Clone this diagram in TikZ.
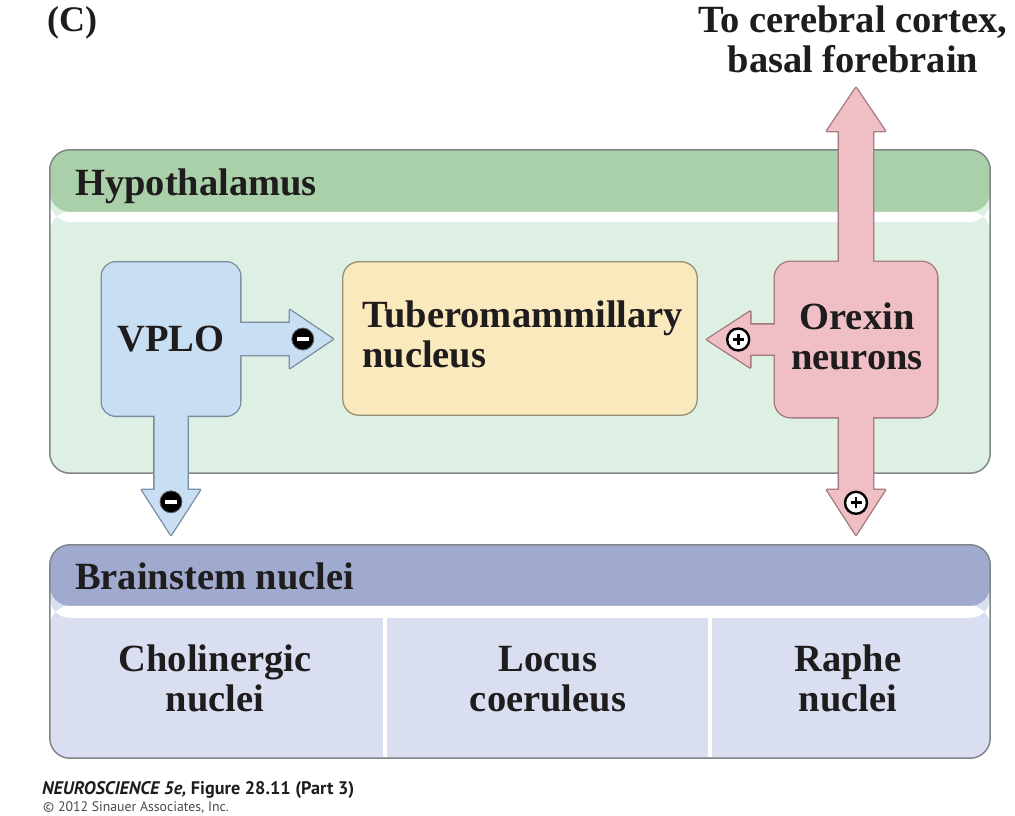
\documentclass[tikz,border=0pt]{standalone}
\usepackage{fontspec}
\setmainfont{Liberation Serif}
\newfontfamily\footfont{PT Sans}
\usetikzlibrary{calc}
\definecolor{hypoHead}{RGB}{169,208,169}
\definecolor{hypoBody}{RGB}{222,240,228}
\definecolor{stemHead}{RGB}{160,170,206}
\definecolor{stemBody}{RGB}{217,222,240}
\definecolor{contLine}{RGB}{128,134,134}
\definecolor{blueFill}{RGB}{200,223,243}
\definecolor{blueLine}{RGB}{120,138,158}
\definecolor{pinkFill}{RGB}{240,191,197}
\definecolor{pinkLine}{RGB}{158,118,124}
\definecolor{yelFill}{RGB}{250,233,189}
\definecolor{yelLine}{RGB}{150,143,118}
\definecolor{txt}{RGB}{30,28,28}
\pgfdeclarelayer{cont}
\pgfdeclarelayer{outl}
\pgfdeclarelayer{fil}
\pgfsetlayers{cont,outl,fil,main}
% #1 style, #2 name, #3 start, #4 tip, #5 shaft half width, #6 head half width, #7 head length
\newcommand\blockarrow[7]{%
  \coordinate (#2-h) at ($(#4)!#7!(#3)$);
  \path[#1] ($(#3)!#5!90:(#4)$) -- ($(#2-h)!#5!-90:(#3)$) -- ($(#2-h)!#6!-90:(#3)$) -- (#4)
    -- ($(#2-h)!#6!90:(#3)$) -- ($(#2-h)!#5!90:(#3)$) -- ($(#3)!#5!-90:(#4)$) -- cycle;}
\begin{document}
\begin{tikzpicture}[x=1pt,y=-1pt,
  container/.style={draw=contLine, line width=1.5pt, rounded corners=20pt, inner sep=0pt, rectangle},
  box/.style={inner sep=0pt, rectangle},
  lbl/.style={font=\fontsize{38.5}{39.5}\selectfont\bfseries, text=txt, inner sep=0pt, align=center},
  bluO/.style={draw=blueLine, line width=2.6pt, line join=round},
  bluF/.style={fill=blueFill},
  pnkO/.style={draw=pinkLine, line width=2.6pt, line join=round},
  pnkF/.style={fill=pinkFill},
  minuscirc/.style={circle, fill=black, draw=black!60, line width=0.8pt, minimum size=22pt, inner sep=0pt},
  pluscirc/.style={circle, fill=white, draw=black, line width=2.4pt, minimum size=22pt, inner sep=0pt}]
\useasboundingbox (0,0) rectangle (1015,815);

% ---------- texts and anchor boxes ----------
\node[lbl, anchor=base west, font=\fontsize{36}{39}\selectfont\bfseries] (clab) at (47,31) {(C)};
\node[lbl] (title) at (853,39.5) {To cerebral cortex,\\basal forebrain};

\node[box, minimum width=940pt, minimum height=323pt] (hypo) at (520,311.5) {};
\node[box, minimum width=940pt, minimum height=213pt] (stem) at (520,651.5) {};

\node[lbl, anchor=base west] (hypolab) at (75,195) {Hypothalamus};
\node[lbl, anchor=base west] (stemlab) at (75,589) {Brainstem nuclei};

\node[box, minimum width=138pt, minimum height=153pt] (vplo) at (171,339) {};
\node[box, minimum width=354pt, minimum height=153pt] (tub) at (520,338.5) {};
\node[box, minimum width=162pt, minimum height=155pt] (orx) at (856,339.5) {};

\node[lbl] (vplotxt) at (171,339.5) {VPLO};
\node[lbl, align=left, anchor=west] (tubtxt) at (362,334.5) {Tuberomammillary\\nucleus};
\node[lbl] (orxtxt) at (857,336.5) {Orexin\\neurons};

\node[lbl] (chol) at (215,678.5) {Cholinergic\\nuclei};
\node[lbl] (locus) at (548,679) {Locus\\coeruleus};
\node[lbl] (raphe) at (848,678.5) {Raphe\\nuclei};

\node[anchor=base west, inner sep=0pt, text=txt, font=\footfont\fontsize{18.2}{20}\selectfont\bfseries] (foot1) at (42,794)
  {\itshape NEUROSCIENCE 5e, \upshape Figure 28.11 (Part 3)};
\node[anchor=base west, inner sep=0pt, text=txt!80, font=\footfont\fontsize{13.8}{15}\selectfont] (foot2) at (43,811)
  {© 2012 Sinauer Associates, Inc.};

% ---------- arrow end points ----------
\coordinate (vr-s) at ($(vplo.east)+(-4,0)$);
\coordinate (vr-t) at ($(vplo.east -| tub.west)+(-10,0)$);
\coordinate (vd-s) at ($(vplo.south)+(0,-4)$);
\coordinate (vd-t) at ($(vplo.south |- stem.north)+(0,-10)$);
\coordinate (ol-s) at ($(orx.west)+(4,0)$);
\coordinate (ol-t) at ($(orx.west -| tub.east)+(10,0)$);
\coordinate (od-s) at ($(orx.south)+(0,-4)$);
\coordinate (od-t) at ($(orx.south |- stem.north)+(0,-10)$);
\coordinate (ou-s) at ($(orx.north)+(0,4)$);
\coordinate (ou-t) at ($(orx.north |- title.south)+(0,15)$);

% ---------- containers ----------
\begin{pgfonlayer}{cont}
  \fill[white] (0,0) rectangle (1015,815);
  \path[container, fill=hypoBody, path picture={
      \fill[hypoHead] (path picture bounding box.north west) rectangle ([yshift=-62pt]path picture bounding box.north east);
      \fill[white] ([yshift=-62pt]path picture bounding box.north west) rectangle ([yshift=-72pt]path picture bounding box.north east);}]
    (hypo.north west) rectangle (hypo.south east);
  \path[container, fill=stemBody, path picture={
      \fill[stemHead] (path picture bounding box.north west) rectangle ([yshift=-61pt]path picture bounding box.north east);
      \fill[white] ([yshift=-61pt]path picture bounding box.north west) rectangle ([yshift=-73pt]path picture bounding box.north east);}]
    (stem.north west) rectangle (stem.south east);
  \draw[white, line width=4pt] ($(stem.north west)+(335,72)$) -- ($(stem.south west)+(335,-1.5)$);
  \draw[white, line width=4pt] ($(stem.north west)+(660,72)$) -- ($(stem.south west)+(660,-1.5)$);
\end{pgfonlayer}

% ---------- outlines of merged shapes ----------
\begin{pgfonlayer}{outl}
  \path[bluO, rounded corners=14pt] (vplo.north west) rectangle (vplo.south east);
  \blockarrow{bluO}{vr}{vr-s}{vr-t}{16pt}{29pt}{43pt}
  \blockarrow{bluO}{vd}{vd-s}{vd-t}{16.5pt}{29pt}{45pt}
  \path[pnkO, rounded corners=16pt] (orx.north west) rectangle (orx.south east);
  \blockarrow{pnkO}{ol}{ol-s}{ol-t}{15pt}{28pt}{43pt}
  \blockarrow{pnkO}{od}{od-s}{od-t}{17pt}{29pt}{45pt}
  \blockarrow{pnkO}{ou}{ou-s}{ou-t}{17pt}{29pt}{43pt}
\end{pgfonlayer}

% ---------- fills ----------
\begin{pgfonlayer}{fil}
  \path[bluF, rounded corners=14pt] (vplo.north west) rectangle (vplo.south east);
  \blockarrow{bluF}{vr}{vr-s}{vr-t}{16pt}{29pt}{43pt}
  \blockarrow{bluF}{vd}{vd-s}{vd-t}{16.5pt}{29pt}{45pt}
  \path[pnkF, rounded corners=16pt] (orx.north west) rectangle (orx.south east);
  \blockarrow{pnkF}{ol}{ol-s}{ol-t}{15pt}{28pt}{43pt}
  \blockarrow{pnkF}{od}{od-s}{od-t}{17pt}{29pt}{45pt}
  \blockarrow{pnkF}{ou}{ou-s}{ou-t}{17pt}{29pt}{43pt}
  \path[draw=yelLine, line width=1.3pt, fill=yelFill, rounded corners=16pt] (tub.north west) rectangle (tub.south east);
\end{pgfonlayer}

% ---------- sign circles ----------
\node[minuscirc] (m1) at ($(vr-t)!30pt!(vr-s)$) {\color{white}\rule[-2pt]{12pt}{4pt}};
\node[minuscirc] (m2) at ($(vd-t)!33pt!(vd-s)$) {\color{white}\rule[-2pt]{12pt}{4pt}};
\node[pluscirc] (p1) at ($(ol-t)!31pt!(ol-s)$) {\rule[-1.4pt]{11pt}{2.8pt}\llap{\rule[-5.5pt]{2.8pt}{11pt}\hspace{4.1pt}}};
\node[pluscirc] (p2) at ($(od-t)!32pt!(od-s)$) {\rule[-1.4pt]{11pt}{2.8pt}\llap{\rule[-5.5pt]{2.8pt}{11pt}\hspace{4.1pt}}};
\end{tikzpicture}
\end{document}
